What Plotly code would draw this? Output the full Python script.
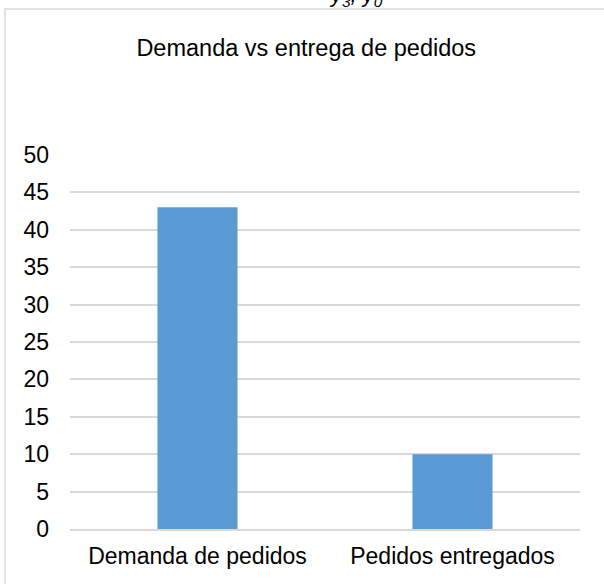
import plotly.graph_objects as go

# Data
categories = ["Demanda de pedidos", "Pedidos entregados"]
values = [43, 10]
y_ticks = [0, 5, 10, 15, 20, 25, 30, 35, 40, 45, 50]

W, H = 604, 584
L, R, T, B = 70, 24, 155, 55
plot_h = H - T - B

font_family = "Liberation Sans, Arial, sans-serif"

fig = go.Figure(
    go.Bar(
        x=categories,
        y=values,
        marker=dict(color="#5b9bd5", line=dict(width=0)),
        hoverinfo="x+y",
    )
)

fig.update_layout(
    width=W,
    height=H,
    margin=dict(l=L, r=R, t=T, b=B),
    paper_bgcolor="white",
    plot_bgcolor="white",
    bargap=0.686,
    showlegend=False,
    font=dict(family=font_family, color="#000000", size=23),
    title=dict(
        text="Demanda vs entrega de pedidos",
        x=0.507,
        xanchor="center",
        y=1 - 48 / H,
        yanchor="middle",
        font=dict(family=font_family, size=23.5, color="#000000"),
    ),
)

fig.update_yaxes(
    range=[0, 50],
    tickvals=y_ticks,
    showgrid=True,
    gridcolor="#d9d9d9",
    gridwidth=1.5,
    zeroline=False,
    showline=False,
    ticks="",
    ticklabelstandoff=20,
    tickfont=dict(size=23, color="#000000"),
)
fig.update_xaxes(
    showline=True,
    linecolor="#d9d9d9",
    linewidth=1.5,
    ticks="",
    ticklabelstandoff=6,
    tickfont=dict(size=23, color="#000000"),
)

# Outer chart frame (extends past the right and bottom edges)
fig.add_shape(
    type="rect",
    xref="paper",
    yref="paper",
    x0=(5 - L) / (W - L - R),
    x1=(W + 10 - L) / (W - L - R),
    y0=-(B + 10) / plot_h,
    y1=1 + (T - 9) / plot_h,
    line=dict(color="#d9d9d9", width=1.5),
    fillcolor="rgba(0,0,0,0)",
    layer="below",
)

# Caption text above the frame
fig.add_annotation(
    text="<i>y<sub>3</sub>, y<sub>0</sub></i>",
    xref="paper",
    yref="paper",
    x=(356 - L) / (W - L - R),
    xanchor="center",
    y=1 + (T - 12) / plot_h,
    yanchor="bottom",
    showarrow=False,
    font=dict(family=font_family, size=22, color="#000000"),
)

fig.write_html("out.html")
